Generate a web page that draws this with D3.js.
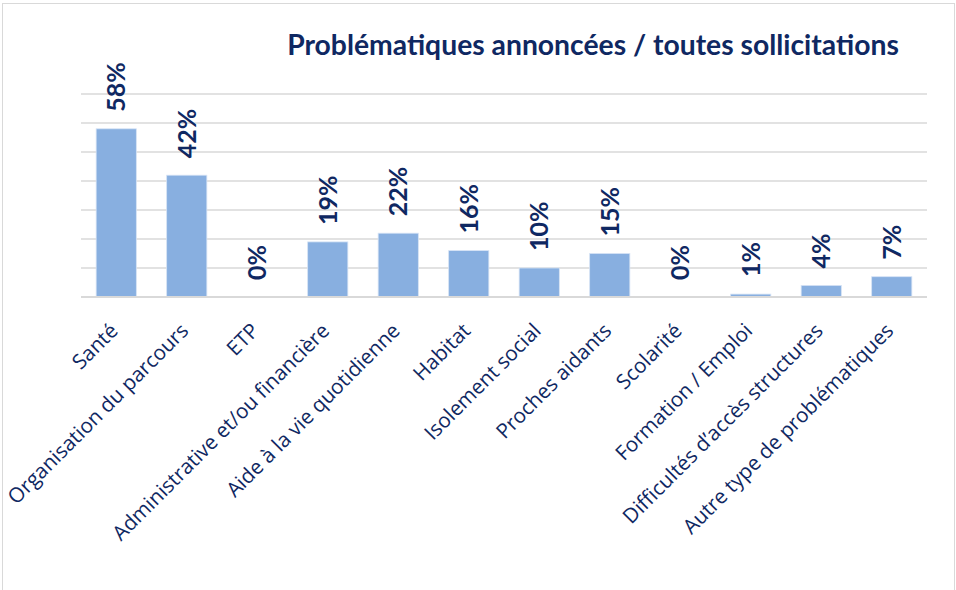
<!DOCTYPE html>
<html>
<head>
<meta charset="utf-8">
<script src="https://cdn.jsdelivr.net/npm/d3@7"></script>
<style>
  html, body { margin: 0; padding: 0; background: #ffffff; }
  svg { display: block; }
</style>
</head>
<body>
<svg id="chart" width="956" height="590"></svg>
<script>
const title = "Problématiques annoncées / toutes sollicitations";
const categories = [
  "Santé",
  "Organisation du parcours",
  "ETP",
  "Administrative et/ou financière",
  "Aide à la vie quotidienne",
  "Habitat",
  "Isolement social",
  "Proches aidants",
  "Scolarité",
  "Formation / Emploi",
  "Difficultés d’accès structures",
  "Autre type de problématiques"
];
const values = [58, 42, 0, 19, 22, 16, 10, 15, 0, 1, 4, 7];
const yTicks = [0, 10, 20, 30, 40, 50, 60, 70];

const navy = "#0F2862";
const barColor = "#88AFE0";
const gridColor = "#D9D9D9";

const svg = d3.select("#chart");

// outer chart frame
svg.append("rect")
  .attr("x", 2.5).attr("y", 3.5)
  .attr("width", 952).attr("height", 600)
  .attr("fill", "#ffffff")
  .attr("stroke", "#D9D9D9")
  .attr("stroke-width", 1);

const x = d3.scaleBand()
  .domain(categories)
  .range([81, 927])
  .paddingInner(0.43)
  .paddingOuter(0.215);

const y = d3.scaleLinear()
  .domain([0, 70])
  .range([297, 94]);

// gridlines
svg.append("g")
  .selectAll("line")
  .data(yTicks)
  .join("line")
  .attr("x1", 81).attr("x2", 927)
  .attr("y1", d => y(d)).attr("y2", d => y(d))
  .attr("stroke", gridColor)
  .attr("stroke-width", 1.6);

// bars
svg.append("g")
  .selectAll("rect")
  .data(values)
  .join("rect")
  .attr("x", (d, i) => x(categories[i]))
  .attr("width", x.bandwidth())
  .attr("y", d => y(d))
  .attr("height", d => y(0) - y(d))
  .attr("fill", barColor)
  .attr("stroke", "#D6E3F5")
  .attr("stroke-width", d => d > 0 ? 0.8 : 0);

// baseline
svg.append("line")
  .attr("x1", 81).attr("x2", 927)
  .attr("y1", y(0)).attr("y2", y(0))
  .attr("stroke", gridColor)
  .attr("stroke-width", 1.8);

// value labels
svg.append("g")
  .selectAll("text")
  .data(values)
  .join("text")
  .attr("transform", (d, i) => {
    const cx = x(categories[i]) + x.bandwidth() / 2;
    return `translate(${cx},${y(d) - 17}) rotate(-90)`;
  })
  .attr("text-anchor", "start")
  .attr("dy", "0.36em")
  .attr("font-family", "Lato, 'Open Sans', sans-serif")
  .attr("font-weight", 700)
  .attr("font-size", 25)
  .attr("fill", navy)
  .text(d => d + "%");

// category labels
svg.append("g")
  .selectAll("text")
  .data(categories)
  .join("text")
  .attr("transform", d => {
    const cx = x(d) + x.bandwidth() / 2;
    return `translate(${cx + 3},${y(0) + 35}) rotate(-45)`;
  })
  .attr("text-anchor", "end")
  .attr("font-family", "'Open Sans', Lato, sans-serif")
  .attr("font-size", 20.6)
  .attr("fill", navy)
  .text(d => d);

// title
svg.append("text")
  .attr("x", 593)
  .attr("y", 55)
  .attr("text-anchor", "middle")
  .attr("font-family", "Lato, 'Open Sans', sans-serif")
  .attr("font-weight", 700)
  .attr("font-size", 28.3)
  .attr("fill", navy)
  .text(title);
</script>
</body>
</html>
